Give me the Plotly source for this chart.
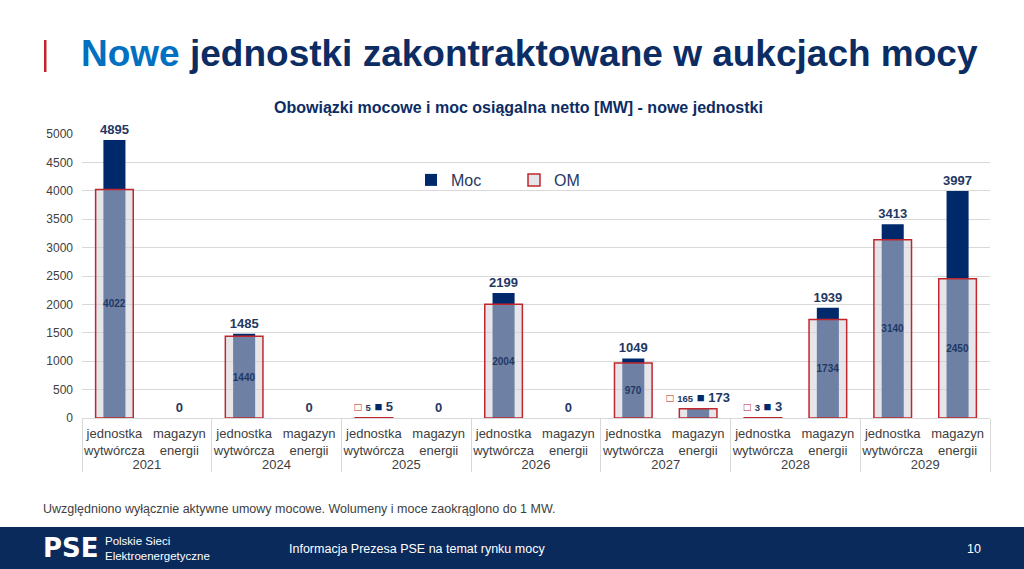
import plotly.graph_objects as go

years = ["2021", "2021", "2024", "2024", "2025", "2025", "2026", "2026",
         "2027", "2027", "2028", "2028", "2029", "2029"]
types = ["jednostka<br>wytwórcza", "magazyn<br>energii"] * 7
moc = [4895, 0, 1485, 0, 5, 0, 2199, 0, 1049, 173, 3, 1939, 3413, 3997]
om = [4022, 0, 1440, 0, 5, 0, 2004, 0, 970, 165, 3, 1734, 3140, 2450]

NAVY = "#00296b"
RED = "#c0272d"
TXT = "#1f3864"
SMALL = 500

moc_text = []
om_text = []
for m, o in zip(moc, om):
    if m == 0:
        moc_text.append("<b>0</b>")
        om_text.append("")
    elif m < SMALL:
        moc_text.append(
            f"<span style='color:{RED};font-size:12px'>□</span> "
            f"<span style='font-size:9.5px'><b>{o}</b></span> "
            f"<span style='color:{NAVY};font-size:13px'>■</span> <b>{m}</b>")
        om_text.append("")
    else:
        moc_text.append(f"<b>{m}</b>")
        om_text.append(f"<b>{o}</b>")

om_line_w = [0 if o == 0 else 1.5 for o in om]

fig = go.Figure()
fig.add_trace(go.Bar(
    x=[years, types], y=moc, name="Moc", width=0.34,
    marker=dict(color=NAVY, line=dict(width=0)),
    text=moc_text, textposition="outside", constraintext="none",
    cliponaxis=False, outsidetextfont=dict(size=13, color=TXT, family="Liberation Sans"),
    hoverinfo="skip"))
fig.add_trace(go.Bar(
    x=[years, types], y=om, name="OM", width=0.58,
    marker=dict(color="rgba(208,208,216,0.53)", line=dict(color=RED, width=om_line_w)),
    text=om_text, textposition="inside", insidetextanchor="middle", textangle=0,
    constraintext="none", cliponaxis=False,
    insidetextfont=dict(size=10, color=TXT, family="Liberation Sans"),
    hoverinfo="skip"))

L, R, T, B = 82, 990, 134, 418
W, H = R - L, B - T


def px(x):
    return (x - L) / W


def py(y):
    return (B - y) / H


fig.update_layout(
    width=1024, height=569,
    margin=dict(l=L, r=1024 - R, t=T, b=569 - B),
    barmode="overlay",
    plot_bgcolor="white", paper_bgcolor="white",
    font=dict(family="Liberation Sans", color="#404040"),
    showlegend=True,
    legend=dict(orientation="h", x=px(411), y=py(180), xanchor="left", yanchor="middle",
                font=dict(size=16, color=TXT), entrywidth=58, bgcolor="rgba(0,0,0,0)"),
    xaxis=dict(type="multicategory", showline=True, linecolor="#d9d9d9", linewidth=1,
               tickfont=dict(size=13, color="#404040"), showdividers=True,
               dividercolor="#d9d9d9", dividerwidth=1, ticks="", tickangle=0,
               ticklabelstandoff=3),
    yaxis=dict(range=[0, 5000], dtick=500, showgrid=True, gridcolor="#d9d9d9",
               zeroline=False, showline=False, tickfont=dict(size=12, color="#404040"),
               ticklabelstandoff=8),
)

shapes = [
    dict(type="rect", xref="paper", yref="paper", x0=px(44), x1=px(46.5), y0=py(72), y1=py(40),
         fillcolor=RED, line=dict(width=0)),
    dict(type="rect", xref="paper", yref="paper", x0=px(0), x1=px(1024), y0=py(569), y1=py(527),
         fillcolor="#0a2a5c", line=dict(width=0)),
]
fig.update_layout(shapes=shapes)

ann = [
    dict(text="<b><span style='color:#0070c0'>Nowe</span> jednostki zakontraktowane w aukcjach mocy</b>",
         x=px(79), y=py(54), xanchor="left", yanchor="middle",
         font=dict(size=37, color="#0c2c64", family="Liberation Sans"), showarrow=False),
    dict(text="<b>Obowiązki mocowe i moc osiągalna netto [MW] - nowe jednostki</b>",
         x=px(518), y=py(108), xanchor="center", yanchor="middle",
         font=dict(size=16, color="#0c2c64", family="Liberation Sans"), showarrow=False),
    dict(text="Uwzględniono wyłącznie aktywne umowy mocowe. Wolumeny i moce zaokrąglono do 1 MW.",
         x=px(41), y=py(509), xanchor="left", yanchor="middle",
         font=dict(size=12.5, color="#404040", family="Liberation Sans"), showarrow=False),
    dict(text="<b>PSE</b>", x=px(41), y=py(548), xanchor="left", yanchor="middle",
         font=dict(size=26, color="white", family="DejaVu Sans"), showarrow=False),
    dict(text="Polskie Sieci<br>Elektroenergetyczne", x=px(103), y=py(548), xanchor="left",
         yanchor="middle", align="left",
         font=dict(size=11.5, color="white", family="Liberation Sans"), showarrow=False),
    dict(text="Informacja Prezesa PSE na temat rynku mocy", x=px(287), y=py(549),
         xanchor="left", yanchor="middle",
         font=dict(size=12.5, color="white", family="Liberation Sans"), showarrow=False),
    dict(text="10", x=px(983), y=py(549), xanchor="right", yanchor="middle",
         font=dict(size=12.5, color="white", family="Liberation Sans"), showarrow=False),
]
for a in ann:
    a["xref"] = "paper"
    a["yref"] = "paper"
fig.update_layout(annotations=ann)

fig.write_html("out.html")
